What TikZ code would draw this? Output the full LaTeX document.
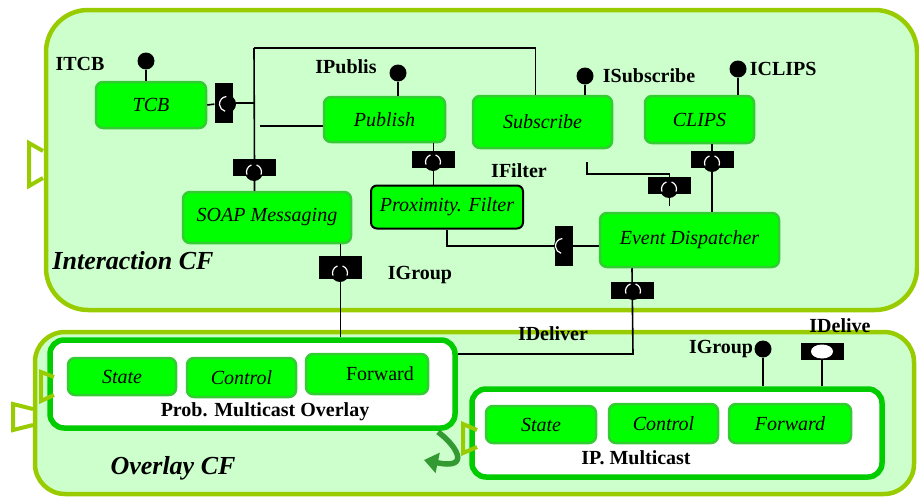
\documentclass[tikz,border=0pt]{standalone}
\usepackage{fontspec}
\setmainfont{Liberation Serif}
\usepackage{tikz}
\usetikzlibrary{positioning,arrows.meta}
\definecolor{cfedge}{HTML}{99CC00}
\definecolor{cffill}{HTML}{CCFFCC}
\definecolor{compfill}{HTML}{00FF00}
\definecolor{compedge}{HTML}{33CC33}
\definecolor{holdedge}{HTML}{00CC00}
\definecolor{turngreen}{HTML}{339933}

\begin{document}
\begin{tikzpicture}[x=1pt, y=-1pt,
  wh/.style 2 args={minimum width=#1pt, minimum height=#2pt},
  cf/.style={draw=cfedge, fill=cffill, line width=4.5pt, inner sep=0pt},
  holder/.style={draw=holdedge, fill=white, line width=5.5pt, rounded corners=14pt, inner sep=0pt},
  comp/.style={draw=compedge, fill=compfill, line width=2.5pt, rounded corners=7pt, inner sep=2pt, font=\fontsize{20}{22}\selectfont\itshape},
  lbl/.style={font=\fontsize{20}{22}\selectfont\bfseries, inner sep=1pt},
  cflbl/.style={font=\fontsize{26}{28}\selectfont\bfseries\itshape, inner sep=0pt},
  wire/.style={line width=1.6pt},
  ball/.style={circle, fill=black, minimum size=17pt, inner sep=0pt},
  sockh/.style={fill=black, wh={43}{17}, inner sep=0pt},
  sockv/.style={fill=black, wh={18}{40}, inner sep=0pt},
  plugh/.style={circle, fill=black, minimum size=18pt, inner sep=0pt, path picture={
    \draw[white, line width=1.2pt] ([shift={(110:7.5pt)}]path picture bounding box.center) arc[start angle=110, end angle=200, radius=7.5pt]
      ([shift={(-20:7.5pt)}]path picture bounding box.center) arc[start angle=-20, end angle=70, radius=7.5pt];}},
  plugv/.style={circle, fill=black, minimum size=18pt, inner sep=0pt, path picture={
    \draw[white, line width=1.2pt] ([shift={(95:7.5pt)}]path picture bounding box.center) arc[start angle=95, end angle=255, radius=7.5pt];}},
  recep/.style={draw=cfedge, line width=4pt},
  turn/.style={draw=turngreen, line width=5.5pt, -{Triangle[width=20pt, length=14pt]}}]
\useasboundingbox (0,0) rectangle (919,498);

% the two component frameworks
\node[cf, rounded corners=42pt, wh={871}{300}] (icf) at (481.5,160) {};
\node[cf, rounded corners=30pt, wh={879}{162}] (ocf) at (474.5,413) {};
\draw[recep] (43,151) -- (29,143) -- (29,186) -- (43,178);
\draw[recep] (33,409) -- (13,404) -- (13,430) -- (33,425);
\node[cflbl] (icflbl) at (133,261) {Interaction CF};
\node[cflbl] (ocflbl) at (173,468) {Overlay CF};

% interaction components
\node[comp, wh={110}{46}] (tcb) at (151,105) {TCB};
\node[comp, wh={121}{45}] (pub) at (384.5,119.5) {\raisebox{-3pt}{Publish}};
\node[comp, wh={139}{52}] (sub) at (542.5,122) {Subscribe};
\node[comp, wh={109}{47}] (clips) at (699.5,119.5) {\raisebox{-3pt}{CLIPS}};
\node[comp, wh={168}{51}] (soap) at (267,217.5) {\raisebox{5pt}{SOAP Messaging}};
\node[comp, draw=black, line width=2pt, rounded corners=6pt, wh={152}{43}] (prox) at (447,207) {\raisebox{3pt}{Proximity. Filter}};
\node[comp, wh={179}{54}] (ev) at (689.5,240) {\raisebox{5pt}{Event Dispatcher}};

% overlay plug-ins
\node[holder, wh={405}{88}] (prob) at (252.5,384) {};
\node[comp, wh={108}{37}] (pstate) at (122,376.5) {State};
\node[comp, wh={109}{39}] (pctrl) at (241.5,377.5) {Control};
\node[comp, font=\fontsize{20}{22}\selectfont, wh={122}{40}] (pfwd) at (367,374) {\hspace*{26pt}Forward};
\node[lbl] (problbl) at (265,412) {Prob. Multicast Overlay};
\draw[recep] (54,377) -- (41,372) -- (41,401) -- (54,395);

\node[holder, wh={410}{88}] (ip) at (677,433) {};
\node[comp, wh={110}{37}] (istate) at (541,424.5) {State};
\node[comp, wh={109}{39}] (ictrl) at (663.5,423.5) {Control};
\node[comp, wh={122}{39}] (ifwd) at (790,423.5) {Forward};
\node[lbl] (iplbl) at (636,458) {IP. Multicast};
\draw[recep] (477,430) -- (463,424) -- (463,453) -- (477,447);
\draw[turn] (438,432) .. controls (456,445) and (472,470) .. (424,460);

% provided interfaces
\node[ball] (itcb) at (146,61) {};
\node[ball] (ipub) at (398,73) {};
\node[ball] (isub) at (585,76) {};
\node[ball] (iclips) at (738,69) {};
\node[ball] (igrp) at (763,349) {};
\node[lbl] at (80,64) {ITCB};
\node[lbl] at (346,67) {IPublis};
\node[lbl, right=8pt of isub] {ISubscribe};
\node[lbl, right=2pt of iclips] {ICLIPS};
\node[lbl, left=0pt of igrp] {IGroup};
\node[lbl] at (519,171) {IFilter};
\node[lbl] at (420,275) {IGroup};
\node[lbl] at (553,334) {IDeliver};
\node[lbl] at (840,326) {IDelive};

% required interfaces
\node[sockv] (tcbsock) at (223.5,103) {};
\node[sockh] (soapsock) at (254.5,167.5) {};
\node[sockh] (pubsock) at (433.5,159.5) {};
\node[sockh] (clipsock) at (712,159.5) {};
\node[sockh] (subsock) at (669.5,185.5) {};
\node[sockv] (evsock) at (564,246) {};
\node[sockh, minimum height=23pt] (grpsock) at (340.5,267.5) {};
\node[sockh] (evdsock) at (632,290.5) {};
\node[sockh] (idsock) at (822,351.5) {};

\coordinate (jtop) at (254,48);
\coordinate (jpub) at (260,126);
\coordinate (subtap) at (587,162);
\coordinate (jdel) at (633,354);

\foreach \b/\c in {itcb/tcb, ipub/pub, isub/sub, iclips/clips, igrp/ip}
  \draw[wire] (\b) -- (\b |- \c.north);
\draw[wire] (tcb.east) -- (tcbsock) -- (tcbsock -| jtop);
\draw[wire] (jtop) -- (soapsock) -- (soapsock |- soap.north);
\draw[wire] (jtop) -| ([xshift=-7pt]sub.north);
\draw[wire] (jpub) -- (jpub -| pub.west);
\draw[wire] (pubsock |- pub.south) -- (pubsock |- prox.north);
\draw[wire] (prox.south) |- (evsock) -- (evsock -| ev.west);
\draw[wire] (subtap) |- ([yshift=3pt]subsock.north) -- (subsock) -- ([yshift=6pt]subsock |- ev.north);
\draw[wire] (clipsock |- clips.south) -- (clipsock |- ev.north);
\draw[wire] (soap.south -| grpsock) -- (grpsock |- prob.north);
\draw[wire] (evdsock |- ev.south) -- (jdel) -- (jdel -| prob.east);
\draw[wire] (idsock.south) -- (idsock |- ip.north);
\fill[white] (idsock) ellipse[x radius=11pt, y radius=7pt];

% plugged balls
\node[plugv] (tcbplug) at (227,104) {};
\node[plugh] (soapplug) at (254,172) {};
\node[plugh] (pubplug) at (433,162) {};
\node[plugh] (clipplug) at (712,163) {};
\node[plugh] (subplug) at (669,189) {};
\node[plugv] (evplug) at (563,246) {};
\node[plugh] (grpplug) at (340,273) {};
\node[plugh] (evdplug) at (633,291) {};
\end{tikzpicture}
\end{document}
